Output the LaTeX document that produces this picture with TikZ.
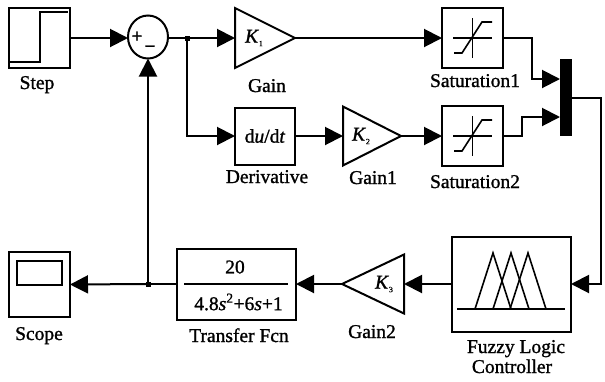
\documentclass[tikz,border=0pt]{standalone}
\usepackage{fontspec}
\setmainfont{Liberation Serif}
\newfontfamily\tnr{Liberation Serif}[FakeBold=1.2]
\usetikzlibrary{arrows.meta,shapes.geometric}
\newcommand{\gk}[1]{\textit{K}\raisebox{-0.4ex}{\fontsize{8}{8}\selectfont #1}}

\begin{document}
\begin{tikzpicture}[x=1pt,y=-1pt,line width=2pt,
    every node/.style={font=\tnr\fontsize{19.5}{22}\selectfont,outer sep=0pt},
    block/.style={draw,rectangle,inner sep=0pt},
    gaintri/.style={draw,isosceles triangle,isosceles triangle stretches,inner sep=0pt},
    lbl/.style={anchor=base,inner sep=0pt},
    sgn/.style={inner sep=0pt,font=\tnr\bfseries\fontsize{19}{19}\selectfont},
    sig/.style={-{Triangle[length=18pt,width=18pt]}},
    dot/.style={fill,rectangle,inner sep=0pt,minimum size=5pt}]

    \useasboundingbox (0,0) rectangle (605,381);

    % top row
    \node[block,minimum width=61pt,minimum height=60pt] (step) at (39.5,38) {};
    \draw[line width=1.6pt] (10,62) -- (40,62) -- (40,12) -- (68,12);
    \node[lbl] (steplbl) at (37,89) {Step};

    \node[draw,ellipse,minimum width=40pt,minimum height=43pt,inner sep=0pt] (sum) at (148,37) {};
    \node[sgn] (plus) at (137,37) {+};
    \node[sgn] (minus) at (150,49) {\char"2212};

    \node[dot] (j1) at (187,38) {};

    \node[gaintri,minimum width=60pt,minimum height=60pt,anchor=west] (gain) at (235,38) {};
    \node[inner sep=0pt] (k1) at (254,38) {\gk{1}};
    \node[lbl] (gainlbl) at (267,92) {Gain};

    \node[block,minimum width=61pt,minimum height=60pt] (sat1) at (472.5,38) {};
    \node[lbl] (sat1lbl) at (475,87) {Saturation1};

    % middle row
    \node[block,minimum width=60pt,minimum height=57pt] (der) at (265,136) {d\textit{u}/d\textit{t}};
    \node[lbl] (derlbl) at (267,183) {Derivative};

    \node[gaintri,minimum width=59pt,minimum height=58pt,anchor=west] (gain1) at (343,136) {};
    \node[inner sep=0pt] (k2) at (361,136) {\gk{2}};
    \node[lbl] (gain1lbl) at (373,184) {Gain1};

    \node[block,minimum width=61pt,minimum height=60pt] (sat2) at (472.5,136) {};
    \node[lbl] (sat2lbl) at (475,188) {Saturation2};

    \foreach \s in {sat1,sat2} {
      \begin{scope}[shift={(\s.center)},line width=1.6pt]
        \draw (-19.5,0) -- (19.5,0);
        \draw (0,-20) -- (0,20);
        \draw (-18.5,15) -- (-10.5,15) -- (9.5,-16) -- (19.5,-16);
      \end{scope}
    }

    \node[fill,rectangle,inner sep=0pt,minimum width=12pt,minimum height=77pt] (mux) at (566,97.5) {};
    \coordinate (muxa) at (560,79);
    \coordinate (muxb) at (560,117);
    \coordinate (muxo) at (572,98);

    % bottom row
    \node[block,minimum width=119pt,minimum height=95pt] (flc) at (511.5,284) {};
    \begin{scope}[shift={(flc.center)},line width=1.6pt]
      \draw (-54.5,25) -- (53.5,25);
      \foreach \a in {-18.5,-0.5,16.5}
        \draw (\a-18,25) -- (\a,-31) -- (\a+18,25);
    \end{scope}
    \node[lbl] (flclbl) at (516,353) {Fuzzy Logic};
    \node[lbl] (flclbl2) at (512,373) {Controller};

    \node[gaintri,shape border rotate=180,minimum width=59pt,minimum height=62pt,anchor=east] (gain2) at (404,284) {};
    \node[inner sep=0pt] (k3) at (384,284) {\gk{3}};
    \node[lbl] (gain2lbl) at (372,338) {Gain2};

    \node[block,minimum width=119pt,minimum height=71pt] (tf) at (236.5,284) {};
    \node[inner sep=0pt] (num) at (235,267) {20};
    \draw[line width=1.6pt] (184,284) -- (288,284);
    \node[inner sep=0pt] (den) at (238.5,302) {4.8\textit{s}\textsuperscript{2}+6\textit{s}+1};
    \node[lbl] (tflbl) at (239,342) {Transfer Fcn};

    \node[dot] (j2) at (148,284) {};

    \node[block,minimum width=61pt,minimum height=65pt] (scope) at (39.5,284.5) {};
    \draw[line width=1.6pt] (17,261) rectangle (62,285);
    \node[lbl] (scopelbl) at (39,340) {Scope};

    % connections
    \coordinate (b1) at (532,79);
    \coordinate (b2) at (522,117);
    \coordinate (b3) at (601,284);

    \draw[sig] (step.east) -- (step.east -| sum.west);
    \draw (sum.east |- j1) -- (j1.center);
    \draw[sig] (j1.center) -- (gain.west);
    \draw[sig] (j1.center) |- (der.west);
    \draw[sig] (gain.apex) -- (sat1.west);
    \draw[sig] (der.east) -- (gain1.west);
    \draw[sig] (gain1.apex) -- (sat2.west);
    \draw[sig] (sat1.east) -| (b1) -- (muxa);
    \draw[sig] (sat2.east) -| (b2) -- (muxb);
    \draw[sig] (muxo) -| (b3) -- (flc.east);
    \draw[sig] (flc.west) -- (gain2.east);
    \draw[sig] (gain2.apex) -- (tf.east);
    \draw (tf.west) -- (j2.center);
    \draw[sig] (j2.center) -- (scope.east);
    \draw[sig] (j2.center) -- (sum.south);

\end{tikzpicture}
\end{document}
